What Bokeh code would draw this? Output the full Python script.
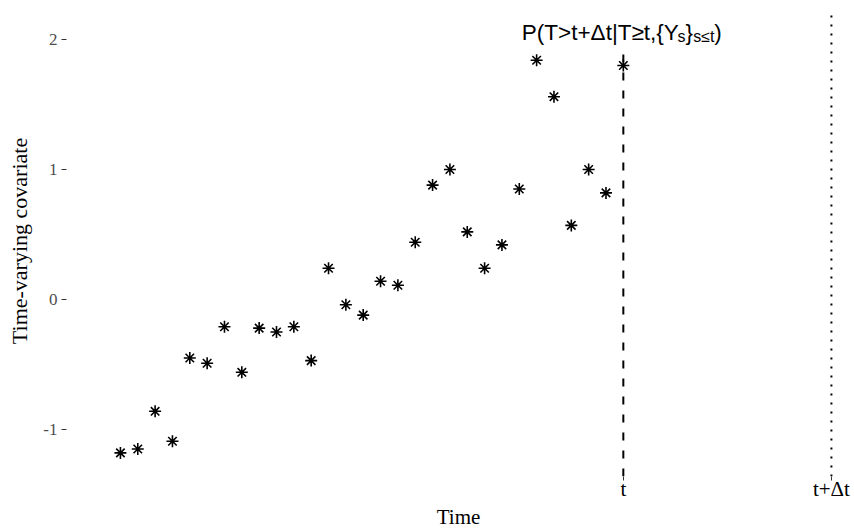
from bokeh.plotting import figure
from bokeh.models import Range1d, FixedTicker, Label, ColumnDataSource
from bokeh.embed import file_html
from bokeh.resources import INLINE

# Observed longitudinal measurements
time = [1, 2, 3, 4, 5, 6, 7, 8, 9, 10, 11, 12, 13, 14, 15,
        16, 17, 18, 19, 20, 21, 22, 23, 24, 25, 26, 27, 28, 29, 30]
covariate = [-1.18, -1.15, -0.86, -1.09, -0.45, -0.49, -0.21, -0.56, -0.22, -0.25,
             -0.21, -0.47, 0.24, -0.04, -0.12, 0.14, 0.11, 0.44, 0.88, 1.00,
             0.52, 0.24, 0.42, 0.85, 1.84, 1.56, 0.57, 1.00, 0.82, 1.80]

# Landmark time and prediction horizon
t_now = 30
t_horizon = 42
x_tick_values = [t_now, t_horizon]
x_tick_labels = ["t", "t+\u0394t"]
y_tick_values = [-1, 0, 1, 2]
y_tick_labels = ["-1", "0", "1", "2"]

SERIF = "Liberation Serif"
SANS = "Liberation Sans"

p = figure(width=854, height=531, output_backend="svg", toolbar_location=None,
           x_range=Range1d(-2.11, 43.1), y_range=Range1d(-1.3615, 2.2615),
           min_border_left=66, min_border_right=4, min_border_top=5, min_border_bottom=55)
p.outline_line_color = None
p.xgrid.visible = False
p.ygrid.visible = False
p.background_fill_color = "white"
p.border_fill_color = "white"

src = ColumnDataSource(dict(time=time, covariate=covariate))
p.scatter("time", "covariate", source=src, marker="asterisk", size=12,
          line_color="black", line_width=1.6)

# vertical reference lines
p.segment(x0=[t_now], y0=[-1.3615], x1=[t_now], y1=[1.915],
          line_color="black", line_width=2, line_dash="8 10")
p.segment(x0=[t_horizon], y0=[-1.3615], x1=[t_horizon], y1=[2.2],
          line_color="black", line_width=2, line_dash="2 7")

# axes
xa = p.xaxis[0]
xa.ticker = FixedTicker(ticks=x_tick_values)
xa.major_label_overrides = dict(zip(x_tick_values, x_tick_labels))
xa.axis_line_color = None
xa.major_tick_line_color = "#333333"
xa.major_tick_in = 0
xa.major_tick_out = 4
xa.minor_tick_line_color = None
xa.major_label_text_font = SERIF
xa.major_label_text_font_size = "21px"
xa.major_label_text_color = "black"
xa.major_label_standoff = -4
xa.axis_label = "Time"
xa.axis_label_text_font = SERIF
xa.axis_label_text_font_size = "21px"
xa.axis_label_text_font_style = "normal"
xa.axis_label_text_color = "black"
xa.axis_label_standoff = 1

ya = p.yaxis[0]
ya.ticker = FixedTicker(ticks=y_tick_values)
ya.major_label_overrides = dict(zip(y_tick_values, y_tick_labels))
ya.axis_line_color = None
ya.major_tick_line_color = "#333333"
ya.major_tick_in = 0
ya.major_tick_out = 5
ya.minor_tick_line_color = None
ya.major_label_text_font = SERIF
ya.major_label_text_font_size = "17px"
ya.major_label_text_color = "#4d4d4d"
ya.major_label_standoff = 4
ya.axis_label = "Time-varying covariate"
ya.axis_label_text_font = SERIF
ya.axis_label_text_font_size = "22px"
ya.axis_label_text_font_style = "normal"
ya.axis_label_text_color = "black"
ya.axis_label_standoff = 8

# conditional survival probability annotation with subscripts
main_size, sub_size = 22.5, 16
base_y, sub_y = 2.056, 2.025
pieces = [
    ("P(T>t+\u0394t|T\u2265t,{Y", main_size, base_y, 6.924),
    ("s", sub_size, sub_y, 0.500),
    ("}", main_size, base_y, 0.334),
    ("s\u2264t", sub_size, sub_y, 1.327),
    (")", main_size, base_y, 0.333),
]
offset = -101.5
for txt, size, yy, em in pieces:
    p.add_layout(Label(x=t_now, y=yy, x_offset=offset, text=txt,
                       text_font=SANS, text_font_size=f"{size}px",
                       text_align="left", text_baseline="alphabetic",
                       text_color="black"))
    offset += em * size

open("out.html", "w").write(file_html(p, INLINE))
